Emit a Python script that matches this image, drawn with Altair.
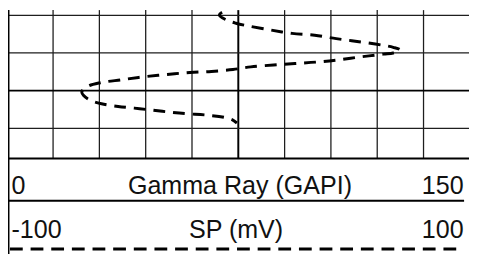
import altair as alt
import pandas as pd

# SP curve (mV) against depth (ft)
sp_mv = [0.3, -4.4, -8.2, -5.2, -1.0, 4.1, 13.9, 23.2, 33.0, 42.3, 52.1, 61.9, 66.9, 69.9,
         66.9, 62.7, 53.4, 43.6, 34.3, 24.5, 15.2, 5.4, -2.3, -11.6, -20.9, -30.7, -40.5,
         -50.2, -59.6, -64.7, -67.6, -66.8, -63.8, -59.1, -51.9, -42.6, -32.8, -23.1,
         -13.7, -6.1, -2.7, -0.6]
depth_ft = [976.5, 978.3, 979.9, 981.2, 982.1, 982.8, 983.9, 984.8, 985.3, 986.2, 987.0,
            987.9, 988.5, 989.2, 990.0, 990.3, 991.0, 991.8, 992.4, 992.8, 993.2, 993.7,
            994.4, 994.9, 995.2, 995.7, 996.3, 997.1, 997.9, 998.8, 1000.3, 1001.3,
            1002.6, 1003.5, 1004.2, 1004.8, 1005.5, 1006.1, 1006.5, 1007.1, 1007.7, 1008.6]

# grid positions
grid_sp_minor = [-80, -60, -40, -20, 20, 40, 60, 80]
grid_sp_major = [0]
grid_depth_minor = [980, 990, 1010]
grid_depth_major = [1000]

# header labels
gr_header = ["0", "Gamma Ray (GAPI)", "150"]
sp_header = ["-100", "SP (mV)", "100"]

W, H, TRACK_H = 469, 248, 151
FONT = "Liberation Sans"
FS = 25.5

x_sc = alt.Scale(domain=[-99.47, 99.64], range=[0, W])
y_sc = alt.Scale(domain=[978.62, 1018.04], range=[0, TRACK_H])

curve_df = pd.DataFrame({"sp": sp_mv, "depth": depth_ft, "i": list(range(len(sp_mv)))})

vminor = alt.Chart(pd.DataFrame({"sp": grid_sp_minor})).mark_rule(color="#1e1e1e", strokeWidth=1.3).encode(
    x=alt.X("sp:Q", scale=x_sc, axis=None), y=alt.value(0), y2=alt.value(TRACK_H))
vmajor = alt.Chart(pd.DataFrame({"sp": grid_sp_major})).mark_rule(color="#000000", strokeWidth=2).encode(
    x=alt.X("sp:Q", scale=x_sc, axis=None), y=alt.value(0), y2=alt.value(TRACK_H))
hminor = alt.Chart(pd.DataFrame({"depth": grid_depth_minor})).mark_rule(color="#1e1e1e", strokeWidth=1.3).encode(
    y=alt.Y("depth:Q", scale=y_sc, axis=None), x=alt.value(0), x2=alt.value(W))
hmajor = alt.Chart(pd.DataFrame({"depth": grid_depth_major})).mark_rule(color="#000000", strokeWidth=2).encode(
    y=alt.Y("depth:Q", scale=y_sc, axis=None), x=alt.value(0), x2=alt.value(W))

curve = alt.Chart(curve_df).mark_line(
    color="black", strokeWidth=3, strokeDash=[12, 8], interpolate="catmull-rom", clip=True
).encode(
    x=alt.X("sp:Q", scale=x_sc, axis=None),
    y=alt.Y("depth:Q", scale=y_sc, axis=None),
    order=alt.Order("i:Q"),
)

track_bottom = alt.Chart(pd.DataFrame({"a": [0]})).mark_rule(color="black", strokeWidth=2).encode(
    x=alt.value(0), x2=alt.value(W), y=alt.value(TRACK_H))
sep = alt.Chart(pd.DataFrame({"a": [0]})).mark_rule(color="black", strokeWidth=2).encode(
    x=alt.value(0), x2=alt.value(464), y=alt.value(194))
legend_dash = alt.Chart(pd.DataFrame({"a": [0]})).mark_rule(color="black", strokeWidth=3, strokeDash=[13, 8]).encode(
    x=alt.value(2), x2=alt.value(464), y=alt.value(243))
left_border = alt.Chart(pd.DataFrame({"a": [0]})).mark_rule(color="black", strokeWidth=2).encode(
    x=alt.value(0.5), y=alt.value(0), y2=alt.value(H))


def label(txt, xpos, ypos, align):
    return alt.Chart(pd.DataFrame({"t": [txt]})).mark_text(
        align=align, baseline="alphabetic", font=FONT, fontSize=FS, color="#111111"
    ).encode(x=alt.value(xpos), y=alt.value(ypos), text="t:N")


texts = [
    label(gr_header[0], 3.5, 187, "left"),
    label(gr_header[1], 236, 187, "center"),
    label(gr_header[2], 463.5, 187, "right"),
    label(sp_header[0], 3.5, 231.5, "left"),
    label(sp_header[1], 232, 231.5, "center"),
    label(sp_header[2], 463.5, 231.5, "right"),
]

chart = alt.layer(
    vminor, vmajor, hminor, hmajor, curve, track_bottom, sep, legend_dash, left_border, *texts
).properties(
    width=W, height=H, padding=0, autosize=alt.AutoSizeParams(type="none"), background="white"
).configure_view(stroke=None)

chart.save("out.html", embed_options={"renderer": "svg", "actions": False})
